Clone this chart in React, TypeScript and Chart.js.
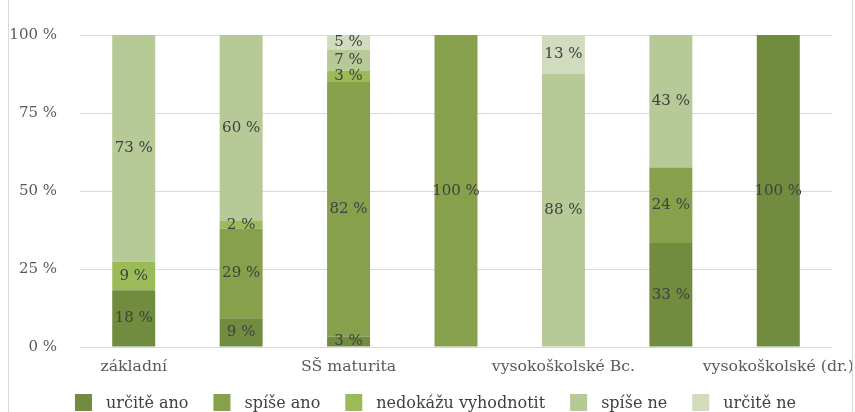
import React, { useEffect, useRef } from "react";
import { Chart, registerables } from "chart.js";

Chart.register(...registerables);

const categories = [
  "základní",
  "SŠ bez maturity",
  "SŠ maturita",
  "vyšší odborné",
  "vysokoškolské Bc.",
  "vysokoškolské Mgr.",
  "vysokoškolské (dr.)",
];

const seriesNames = ["určitě ano", "spíše ano", "nedokážu vyhodnotit", "spíše ne", "určitě ne"];

const urciteAno = [18.2, 9.2, 3.4, 0, 0, 33.3, 100];
const spiseAno = [0, 28.8, 81.8, 100, 0, 24.2, 0];
const nedokazu = [9.1, 2.4, 3.4, 0, 0, 0, 0];
const spiseNe = [72.7, 59.6, 6.6, 0, 87.5, 42.5, 0];
const urciteNe = [0, 0, 4.8, 0, 12.5, 0, 0];

const yTicks = [0, 25, 50, 75, 100];

const colors = ["#718b3f", "#86a04b", "#9bbb59", "#b6c997", "#d1dcbe"];

const FONT = '"DejaVu Serif", serif';

const segLabels = {
  id: "segLabels",
  afterDatasetsDraw(chart: any) {
    const ctx = chart.ctx;
    ctx.save();
    ctx.font = `15px ${FONT}`;
    ctx.fillStyle = "#404040";
    ctx.textAlign = "center";
    ctx.textBaseline = "middle";
    chart.data.datasets.forEach((ds: any, i: number) => {
      const meta = chart.getDatasetMeta(i);
      meta.data.forEach((el: any, j: number) => {
        const v = ds.data[j];
        if (!v) return;
        const p = el.getProps(["x", "y", "base"], true);
        ctx.fillText(Math.round(v) + " %", p.x, (p.y + p.base) / 2);
      });
    });
    ctx.restore();
  },
};

const bottomLegend = {
  id: "bottomLegend",
  afterDraw(chart: any) {
    const ctx = chart.ctx;
    const box = 17;
    const gapText = 14;
    const gapItem = 25;
    ctx.save();
    ctx.font = `16px ${FONT}`;
    ctx.textBaseline = "middle";
    ctx.textAlign = "left";
    const items = chart.data.datasets.map((ds: any) => ({
      text: ds.label,
      color: ds.backgroundColor,
      w: ctx.measureText(ds.label).width,
    }));
    const total =
      items.reduce((a: number, it: any) => a + box + gapText + it.w, 0) + gapItem * (items.length - 1);
    let x = chart.width / 2 + 5 - total / 2;
    const top = chart.height - 18;
    items.forEach((it: any) => {
      ctx.fillStyle = it.color;
      ctx.fillRect(x, top, box, box);
      ctx.fillStyle = "#404040";
      ctx.fillText(it.text, x + box + gapText, top + 10);
      x += box + gapText + it.w + gapItem;
    });
    ctx.restore();
  },
};

export default function App() {
  const ref = useRef<HTMLCanvasElement | null>(null);

  useEffect(() => {
    if (!ref.current) return;
    const values = [urciteAno, spiseAno, nedokazu, spiseNe, urciteNe];
    const chart = new Chart(ref.current, {
      type: "bar",
      data: {
        labels: categories,
        datasets: values.map((d, i) => ({
          label: seriesNames[i],
          data: d,
          backgroundColor: colors[i],
          borderWidth: 0,
          barPercentage: 0.4,
          categoryPercentage: 1,
        })),
      },
      options: {
        animation: false,
        responsive: true,
        maintainAspectRatio: false,
        layout: { padding: { top: 35, right: 20, left: 0, bottom: 35 } },
        plugins: {
          tooltip: { enabled: false },
          legend: { display: false },
        },
        scales: {
          x: {
            stacked: true,
            grid: { display: false },
            border: { display: false },
            afterFit: (s: any) => {
              s.height = 30;
              s.paddingRight = 0;
              s.paddingLeft = 0;
            },
            ticks: {
              autoSkip: false,
              maxRotation: 0,
              color: "#595959",
              font: { family: FONT, size: 15.7 },
              callback: (_v: any, i: number) => (i % 2 === 0 ? categories[i] : ""),
            },
          },
          y: {
            stacked: true,
            min: 0,
            max: 100,
            afterFit: (s: any) => {
              s.width = 71;
            },
            afterBuildTicks: (s: any) => {
              s.ticks = yTicks.map((v) => ({ value: v }));
            },
            grid: { color: "#d9d9d9", drawTicks: false },
            border: { display: false },
            ticks: {
              color: "#595959",
              padding: 23,
              font: { family: FONT, size: 15 },
              callback: (v: any) => v + " %",
            },
          },
        },
      },
      plugins: [segLabels, bottomLegend],
    });
    return () => chart.destroy();
  }, []);

  return (
    <div
      style={{
        position: "absolute",
        left: 8,
        top: 0,
        width: 843,
        height: 412,
        borderLeft: "1px solid #d9d9d9",
        borderRight: "1px solid #d9d9d9",
      }}
    >
      <canvas ref={ref} />
    </div>
  );
}
